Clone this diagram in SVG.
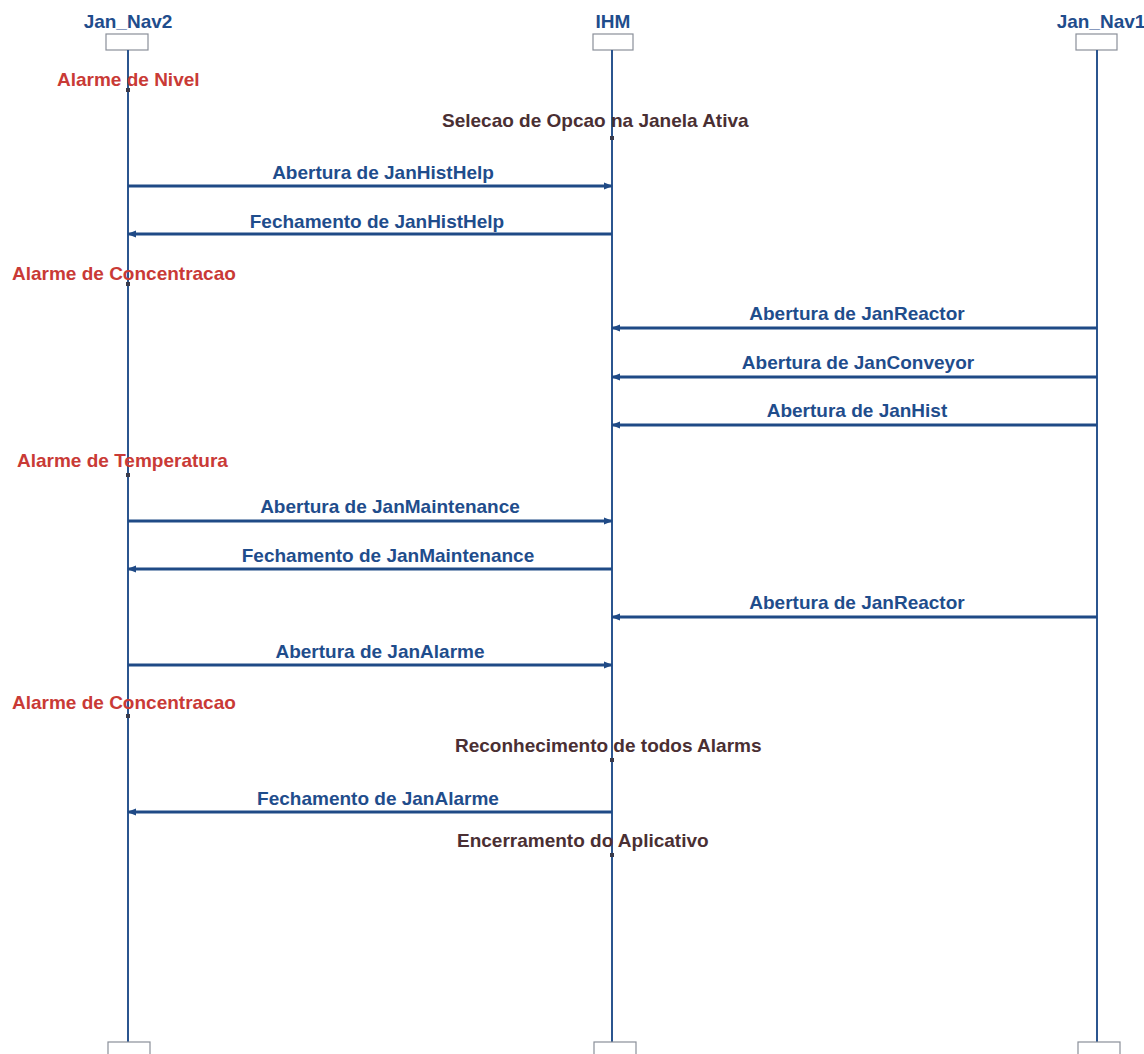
<svg xmlns="http://www.w3.org/2000/svg" width="1144" height="1054" viewBox="0 0 1144 1054">
<defs>
<style>
.t{font-family:"Liberation Sans",Arial,sans-serif;font-weight:bold;font-size:19px}
.title{fill:#1f4d8c;text-anchor:middle}
.msg{fill:#1f4d8c;text-anchor:middle}
.note{fill:#c93a36}
.act{fill:#4a2f33}
.box{fill:#fff;stroke:#8a8f99;stroke-width:1.2}
.life{stroke:#2b558f;stroke-width:2;fill:none}
.arr{stroke:#1f4a86;stroke-width:2.8;fill:none}
.dot{fill:#3a3a4a}
</style>
<marker id="ah" viewBox="0 0 10 10" refX="9" refY="5" markerWidth="9" markerHeight="9" markerUnits="userSpaceOnUse" orient="auto">
<path d="M0,1 L10,5 L0,9 Z" fill="#1f4a86"/>
</marker>
</defs>
<rect width="1144" height="1054" fill="#fff"/>
<g id="Jan_Nav2">
<text class="t title" x="128" y="28">Jan_Nav2</text>
<rect class="box" x="106" y="34" width="42" height="16"/>
<line class="life" x1="128" y1="50" x2="128" y2="1042"/>
<rect class="box" x="108" y="1042" width="42" height="16"/>
</g>
<g id="IHM">
<text class="t title" x="613" y="28">IHM</text>
<rect class="box" x="593" y="34" width="40" height="16"/>
<line class="life" x1="612" y1="50" x2="612" y2="1042"/>
<rect class="box" x="594" y="1042" width="42" height="16"/>
</g>
<g id="Jan_Nav1">
<text class="t title" x="1101" y="28">Jan_Nav1</text>
<rect class="box" x="1076" y="34" width="41" height="16"/>
<line class="life" x1="1097" y1="50" x2="1097" y2="1042"/>
<rect class="box" x="1078" y="1042" width="42" height="16"/>
</g>
<g id="notes">
<text class="t note" x="57" y="86">Alarme de Nivel</text>
<rect class="dot" x="126" y="88" width="4" height="4"/>
<text class="t act" x="442" y="127">Selecao de Opcao na Janela Ativa</text>
<rect class="dot" x="610" y="136" width="4" height="4"/>
<text class="t note" x="12" y="280">Alarme de Concentracao</text>
<rect class="dot" x="126" y="282" width="4" height="4"/>
<text class="t note" x="17" y="467">Alarme de Temperatura</text>
<rect class="dot" x="126" y="473" width="4" height="4"/>
<text class="t note" x="12" y="709">Alarme de Concentracao</text>
<rect class="dot" x="126" y="714" width="4" height="4"/>
<text class="t act" x="455" y="752">Reconhecimento de todos Alarms</text>
<rect class="dot" x="610" y="758" width="4" height="4"/>
<text class="t act" x="457" y="847">Encerramento do Aplicativo</text>
<rect class="dot" x="610" y="853" width="4" height="4"/>
</g>
<g id="connectors">
<line class="arr" x1="128" y1="186" x2="612" y2="186" marker-end="url(#ah)"/>
<text class="t msg" x="383" y="179">Abertura de JanHistHelp</text>
<line class="arr" x1="612" y1="234" x2="128" y2="234" marker-end="url(#ah)"/>
<text class="t msg" x="377" y="228">Fechamento de JanHistHelp</text>
<line class="arr" x1="1097" y1="328" x2="612" y2="328" marker-end="url(#ah)"/>
<text class="t msg" x="857" y="320">Abertura de JanReactor</text>
<line class="arr" x1="1097" y1="377" x2="612" y2="377" marker-end="url(#ah)"/>
<text class="t msg" x="858" y="369">Abertura de JanConveyor</text>
<line class="arr" x1="1097" y1="425" x2="612" y2="425" marker-end="url(#ah)"/>
<text class="t msg" x="857" y="417">Abertura de JanHist</text>
<line class="arr" x1="128" y1="521" x2="612" y2="521" marker-end="url(#ah)"/>
<text class="t msg" x="390" y="513">Abertura de JanMaintenance</text>
<line class="arr" x1="612" y1="569" x2="128" y2="569" marker-end="url(#ah)"/>
<text class="t msg" x="388" y="562">Fechamento de JanMaintenance</text>
<line class="arr" x1="1097" y1="617" x2="612" y2="617" marker-end="url(#ah)"/>
<text class="t msg" x="857" y="609">Abertura de JanReactor</text>
<line class="arr" x1="128" y1="665" x2="612" y2="665" marker-end="url(#ah)"/>
<text class="t msg" x="380" y="658">Abertura de JanAlarme</text>
<line class="arr" x1="612" y1="812" x2="128" y2="812" marker-end="url(#ah)"/>
<text class="t msg" x="378" y="805">Fechamento de JanAlarme</text>
</g>
</svg>
